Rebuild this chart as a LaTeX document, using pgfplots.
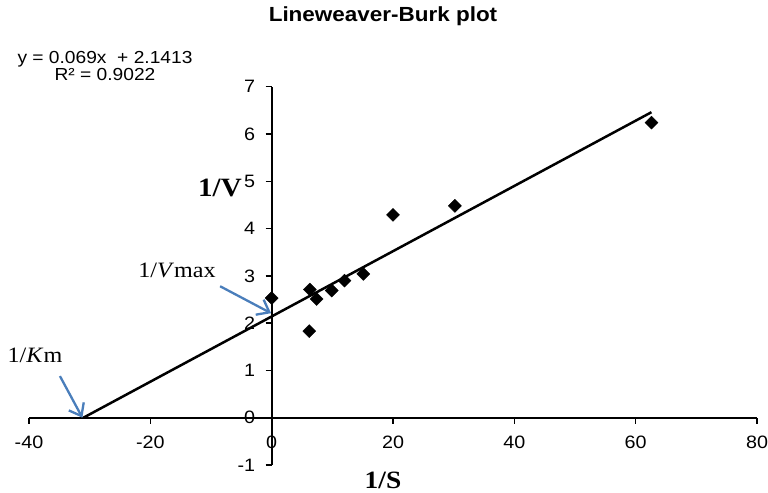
\documentclass[border=0pt]{standalone}
\usepackage{fontspec}
\setmainfont{Liberation Sans}[FakeStretch=1.1]
\newfontfamily\serifl{Liberation Serif}[FakeStretch=1.1]
\usepackage{pgfplots}
\pgfplotsset{compat=1.18}
\usetikzlibrary{arrows.meta}
\definecolor{arrowblue}{RGB}{74,126,187}

\begin{document}
\begin{tikzpicture}[x=1bp,y=1bp]
\useasboundingbox (0,0) rectangle (768,493);
\begin{axis}[
  at={(29bp,28bp)}, anchor=south west,
  scale only axis, width=728bp, height=378.3bp,
  xmin=-40, xmax=80, ymin=-1, ymax=7,
  axis lines=middle,
  axis line style={-, line width=1.8bp},
  xtick={-40,-20,...,80}, ytick={-1,0,...,7},
  tick align=outside, major tick length=6bp,
  tick style={line width=1.5bp, black},
  hide obscured x ticks=false, hide obscured y ticks=false,
  /pgf/number format/assume math mode=true,
  ticklabel style={font=\fontsize{18}{20}\selectfont},
  xticklabel style={yshift=-9bp},
  yticklabel style={xshift=-7bp},
  clip=false,
]
% measured reciprocal rates against reciprocal substrate concentrations
\addplot[only marks, mark=square*, mark size=4.6bp,
  mark options={rotate=45, fill=black, draw=black}] coordinates {
  (0,2.53) (6.3,2.71) (7.4,2.51) (9.9,2.69) (12.0,2.90)
  (15.1,3.04) (6.2,1.83) (20.0,4.29) (30.2,4.48) (62.6,6.24)
};
% least-squares line y = 0.069x + 2.1413, from the x-intercept to the last point
\addplot[black, line width=2.5bp] coordinates {(-31.0333,0) (62.6,6.4607)};
% pointers to the two intercepts
\draw[arrowblue, line width=2.3bp, -{Straight Barb[length=11bp, width=17bp]}]
  (axis cs:-8.5,2.78) -- (axis cs:-0.1,2.21);
\draw[arrowblue, line width=2.3bp, -{Straight Barb[length=11bp, width=17bp]}]
  (axis cs:-34.9,0.88) -- (axis cs:-31.2,0.0);
\end{axis}
\node[font=\fontsize{20.5}{22}\selectfont\bfseries] at (383,477) {Lineweaver-Burk plot};
\node[font=\fontsize{17.5}{18}\selectfont, align=center] at (105,427) {y = 0.069x\ \ + 2.1413\\R² = 0.9022};
\node[font=\fontsize{26.5}{28}\serifl\bfseries] at (220,305) {1/V};
\node[font=\fontsize{25}{27}\serifl\bfseries, anchor=base, inner sep=0pt] at (383,4) {1/S};
\node[font=\fontsize{22}{24}\serifl] at (177,223) {1/\textit{V}max};
\node[font=\fontsize{22}{24}\serifl] at (35,138) {1/\textit{K}m};
\end{tikzpicture}
\end{document}
